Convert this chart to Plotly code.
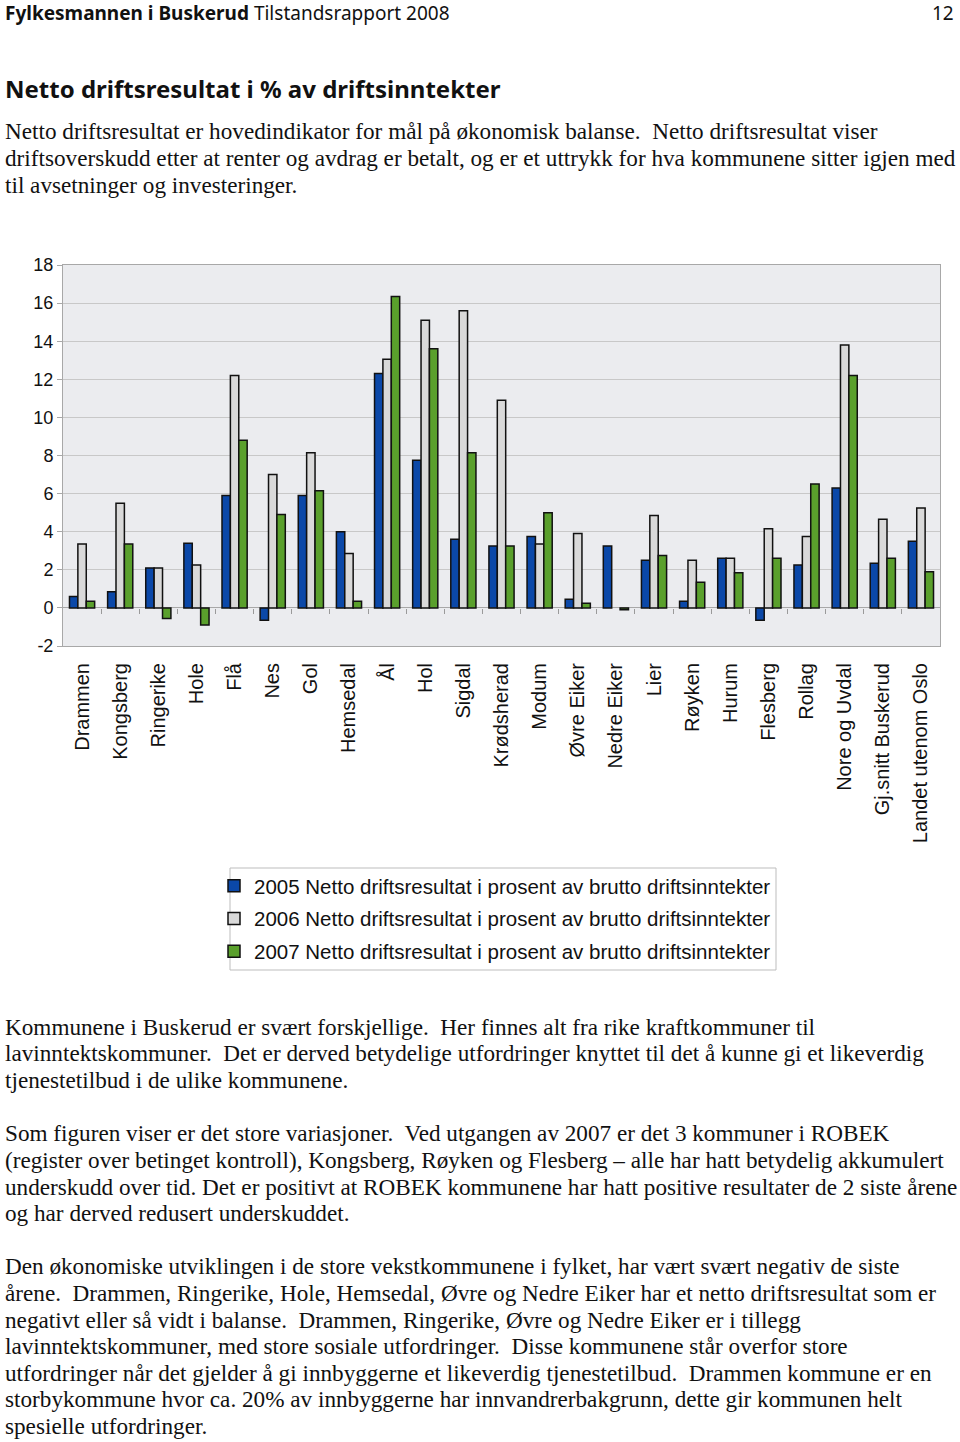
import plotly.graph_objects as go

categories = ["Drammen", "Kongsberg", "Ringerike", "Hole", "Flå", "Nes", "Gol", "Hemsedal",
              "Ål", "Hol", "Sigdal", "Krødsherad", "Modum", "Øvre Eiker", "Nedre Eiker", "Lier",
              "Røyken", "Hurum", "Flesberg", "Rollag", "Nore og Uvdal", "Gj.snitt Buskerud",
              "Landet utenom Oslo"]
v2005 = [0.6, 0.85, 2.1, 3.4, 5.9, -0.65, 5.9, 4.0, 12.3, 7.75, 3.6, 3.25, 3.75, 0.45, 3.25, 2.5,
         0.35, 2.6, -0.65, 2.25, 6.3, 2.35, 3.5]
v2006 = [3.35, 5.5, 2.1, 2.25, 12.2, 7.0, 8.15, 2.85, 13.05, 15.1, 15.6, 10.9, 3.35, 3.9, None, 4.85,
         2.5, 2.6, 4.15, 3.75, 13.8, 4.65, 5.25]
v2007 = [0.35, 3.35, -0.55, -0.9, 8.8, 4.9, 6.15, 0.35, 16.35, 13.6, 8.15, 3.25, 5.0, 0.25, -0.1, 2.75,
         1.35, 1.85, 2.6, 6.5, 12.2, 2.6, 1.9]
series_names = ["2005 Netto driftsresultat i prosent av brutto driftsinntekter",
                "2006 Netto driftsresultat i prosent av brutto driftsinntekter",
                "2007 Netto driftsresultat i prosent av brutto driftsinntekter"]
y_ticks = [-2, 0, 2, 4, 6, 8, 10, 12, 14, 16, 18]
y_tick_labels = ["-2", "0", "2", "4", "6", "8", "10", "12", "14", "16", "18"]

header_bold = "Fylkesmannen i Buskerud"
header_rest = "Tilstandsrapport 2008"
page_no = "12"
title = "Netto driftsresultat i % av driftsinntekter"
para1 = ["Netto driftsresultat er hovedindikator for mål på økonomisk balanse.  Netto driftsresultat viser",
         "driftsoverskudd etter at renter og avdrag er betalt, og er et uttrykk for hva kommunene sitter igjen med",
         "til avsetninger og investeringer."]
para2 = ["Kommunene i Buskerud er svært forskjellige.  Her finnes alt fra rike kraftkommuner til",
         "lavinntektskommuner.  Det er derved betydelige utfordringer knyttet til det å kunne gi et likeverdig",
         "tjenestetilbud i de ulike kommunene."]
para3 = ["Som figuren viser er det store variasjoner.  Ved utgangen av 2007 er det 3 kommuner i ROBEK",
         "(register over betinget kontroll), Kongsberg, Røyken og Flesberg – alle har hatt betydelig akkumulert",
         "underskudd over tid. Det er positivt at ROBEK kommunene har hatt positive resultater de 2 siste årene",
         "og har derved redusert underskuddet."]
para4 = ["Den økonomiske utviklingen i de store vekstkommunene i fylket, har vært svært negativ de siste",
         "årene.  Drammen, Ringerike, Hole, Hemsedal, Øvre og Nedre Eiker har et netto driftsresultat som er",
         "negativt eller så vidt i balanse.  Drammen, Ringerike, Øvre og Nedre Eiker er i tillegg",
         "lavinntektskommuner, med store sosiale utfordringer.  Disse kommunene står overfor store",
         "utfordringer når det gjelder å gi innbyggerne et likeverdig tjenestetilbud.  Drammen kommune er en",
         "storbykommune hvor ca. 20% av innbyggerne har innvandrerbakgrunn, dette gir kommunen helt",
         "spesielle utfordringer."]

W, H = 960, 1442
colors = ["#0B48A8", "#D9D9D9", "#5AA02C"]
SANS = "Liberation Sans, Arial, sans-serif"
SERIF = "Liberation Serif, Times New Roman, serif"
HEAD = "Noto Sans, sans-serif"

def py(p):
    return 1 - p / H

def px(p):
    return p / W

fig = go.Figure()
for name, vals, col, grp in zip(series_names, [v2005, v2006, v2007], colors, ["a", "b", "c"]):
    fig.add_trace(go.Bar(x=categories, y=vals, name=name, legendgroup=grp,
                         marker=dict(color=col, line=dict(color="#111111", width=1.5))))
# invisible trace for the category-separator tick axis at zero
fig.add_trace(go.Scatter(x=[None], y=[None], xaxis="x2", showlegend=False, hoverinfo="skip"))

y0, y1 = py(646), py(265)
zero_pos = y0 + (0 - (-2)) / 20 * (y1 - y0)

fig.update_layout(
    width=W, height=H,
    margin=dict(l=0, r=0, t=0, b=0),
    paper_bgcolor="white",
    plot_bgcolor="#EBECEF",
    barmode="group", bargap=0.34, bargroupgap=0,
    showlegend=True,
    legend=dict(x=px(214), y=py(866), xanchor="left", yanchor="top",
                font=dict(family=SANS, size=20.5, color="#111111"),
                bgcolor="rgba(0,0,0,0)", borderwidth=0, tracegroupgap=3,
                itemwidth=30),
    xaxis=dict(domain=[px(63), px(940)], showgrid=False, zeroline=False,
               showline=True, linecolor="#A8A8A8", linewidth=1, mirror=True,
               tickangle=-90, ticks="", ticklabelstandoff=8,
               tickfont=dict(family=SANS, size=20, color="#111111"),
               automargin=False, fixedrange=True),
    xaxis2=dict(overlaying="x", anchor="free", position=zero_pos, domain=[px(63), px(940)],
                range=[-0.5, len(categories) - 0.5], tickvals=[i + 0.5 for i in range(len(categories) - 1)],
                ticks="outside", ticklen=5, tickcolor="#9A9A9A", showticklabels=False,
                showgrid=False, zeroline=False, showline=False, automargin=False),
    yaxis=dict(domain=[y0, y1], range=[-2, 18], tickvals=y_ticks, ticktext=y_tick_labels,
               showgrid=True, gridcolor="#C8C8C8", gridwidth=1,
               zeroline=True, zerolinecolor="#A8A8A8", zerolinewidth=1,
               showline=True, linecolor="#A8A8A8", linewidth=1, mirror=True,
               ticks="outside", ticklen=5, tickcolor="#A8A8A8",
               tickfont=dict(family=SANS, size=18, color="#111111"),
               automargin=False, fixedrange=True),
)

# legend frame
fig.add_shape(type="rect", xref="paper", yref="paper", x0=px(230), x1=px(776), y0=py(970), y1=py(868),
              line=dict(color="#BDBDBD", width=1))

ann = []
ann.append(dict(text=f"<b>{header_bold}</b> {header_rest}", x=px(3), y=py(13), xanchor="left", yanchor="middle",
                font=dict(family=HEAD, size=19, color="#111111")))
ann.append(dict(text=page_no, x=px(956), y=py(13), xanchor="right", yanchor="middle",
                font=dict(family=HEAD, size=19, color="#111111")))
ann.append(dict(text=f"<b>{title}</b>", x=px(3), y=py(89), xanchor="left", yanchor="middle",
                font=dict(family=HEAD, size=24, color="#111111")))

def add_para(lines, ys):
    for t, yy in zip(lines, ys):
        ann.append(dict(text=t, x=px(3), y=py(yy), xanchor="left", yanchor="middle",
                        font=dict(family=SERIF, size=23.2, color="#111111")))

add_para(para1, [131, 158, 185])
add_para(para2, [1027, 1053, 1080])
add_para(para3, [1133, 1160, 1187, 1213])
add_para(para4, [1266, 1293, 1320, 1346, 1373, 1399, 1426])

for a in ann:
    a.update(xref="paper", yref="paper", showarrow=False, align="left")
fig.update_layout(annotations=ann)

fig.write_html("out.html", config={"displayModeBar": False},
               post_script="document.body.style.margin='0px';document.body.style.padding='0px';")
